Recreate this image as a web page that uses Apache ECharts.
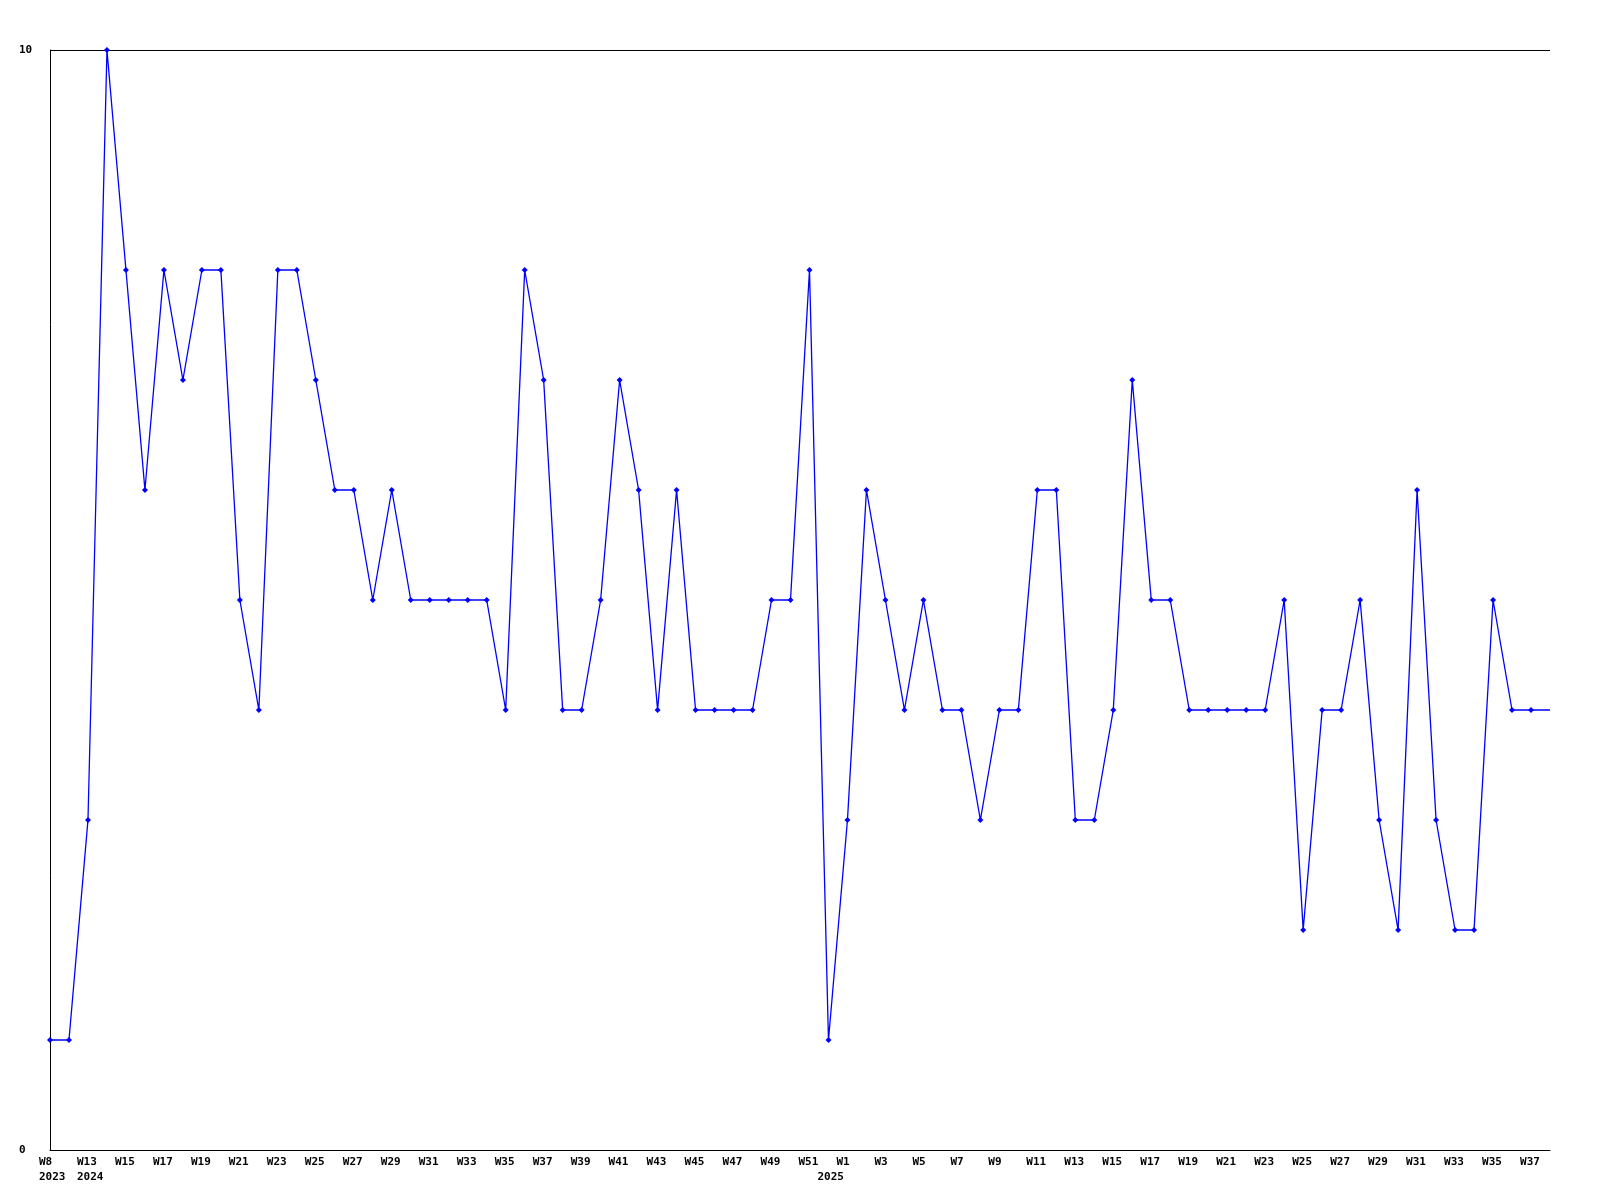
<!DOCTYPE html>
<html>
<head>
<meta charset="utf-8">
<script src="https://cdn.jsdelivr.net/npm/echarts@6/dist/echarts.min.js"></script>
<style>html,body{margin:0;padding:0;background:#fff}#c{width:1600px;height:1200px}</style>
</head>
<body>
<div id="c"></div>
<script>
var weeks = ['W8','W12','W13','W14','W15','W16','W17','W18','W19','W20','W21','W22','W23','W24','W25','W26','W27','W28','W29','W30','W31','W32','W33','W34','W35','W36','W37','W38','W39','W40','W41','W42','W43','W44','W45','W46','W47','W48','W49','W50','W51','W52',
 'W1','W2','W3','W4','W5','W6','W7','W8','W9','W10','W11','W12','W13','W14','W15','W16','W17','W18','W19','W20','W21','W22','W23','W24','W25','W26','W27','W28','W29','W30','W31','W32','W33','W34','W35','W36','W37','W38'];
// year texts printed under the axis, and the point index each sits under
var yearLabelAt = [0, 2, 41];
var yearLabelText = ['2023', '2024', '2025'];
var values = [1,1,3,10,8,6,8,7,8,8,5,4,8,8,7,6,6,5,6,5,5,5,5,5,4,8,7,4,4,5,7,6,4,6,4,4,4,4,5,5,8,1,
 3,6,5,4,5,4,4,3,4,4,6,6,3,3,4,7,5,5,4,4,4,4,4,5,2,4,4,5,3,2,6,3,2,2,5,4,4,4];
var yTicks = [0, 10];

var categories = weeks.map(function(w, i){ return i + ':' + w; });
var chart = echarts.init(document.getElementById('c'));
var fontFam = '"DejaVu Sans Mono", monospace';
chart.setOption({
  animation: false,
  backgroundColor: '#ffffff',
  grid: {left: 50, right: 50, top: 50, bottom: 50},
  xAxis: {
    type: 'category',
    data: categories,
    boundaryGap: false,
    axisLine: {lineStyle: {color: '#000', width: 1}},
    axisTick: {show: false},
    axisLabel: {
      interval: 0,
      margin: 5,
      color: '#000',
      fontFamily: fontFam,
      fontWeight: 'bold',
      fontSize: 11,
      lineHeight: 15,
      formatter: function(v, i){
        var w = (i % 2 === 0) ? weeks[i] : '';
        var k = yearLabelAt.indexOf(i);
        var y = k >= 0 ? yearLabelText[k] : '';
        if (!w && !y) return '';
        return '{a|' + (w || ' ') + '}\n{a|' + (y || ' ') + '}';
      },
      rich: {a: {width: 22, align: 'left', fontFamily: fontFam, fontWeight: 'bold', fontSize: 11, lineHeight: 15, color: '#000'}}
    },
    splitLine: {show: false}
  },
  yAxis: {
    type: 'value',
    min: yTicks[0],
    max: yTicks[1],
    interval: 10,
    axisLine: {show: true, lineStyle: {color: '#000', width: 1}},
    axisTick: {show: false},
    axisLabel: {
      margin: 31, align: 'left', color: '#000',
      fontFamily: fontFam, fontWeight: 'bold', fontSize: 11
    },
    splitLine: {show: true, lineStyle: {color: '#000', width: 1}}
  },
  series: [{
    type: 'line',
    data: values,
    symbol: function(v, p){ return p.dataIndex === values.length - 1 ? 'none' : 'diamond'; },
    symbolSize: 6,
    showAllSymbol: true,
    lineStyle: {color: '#0000ff', width: 1.3},
    itemStyle: {color: '#0000ff'},
    clip: false
  }]
});
</script>
</body>
</html>
